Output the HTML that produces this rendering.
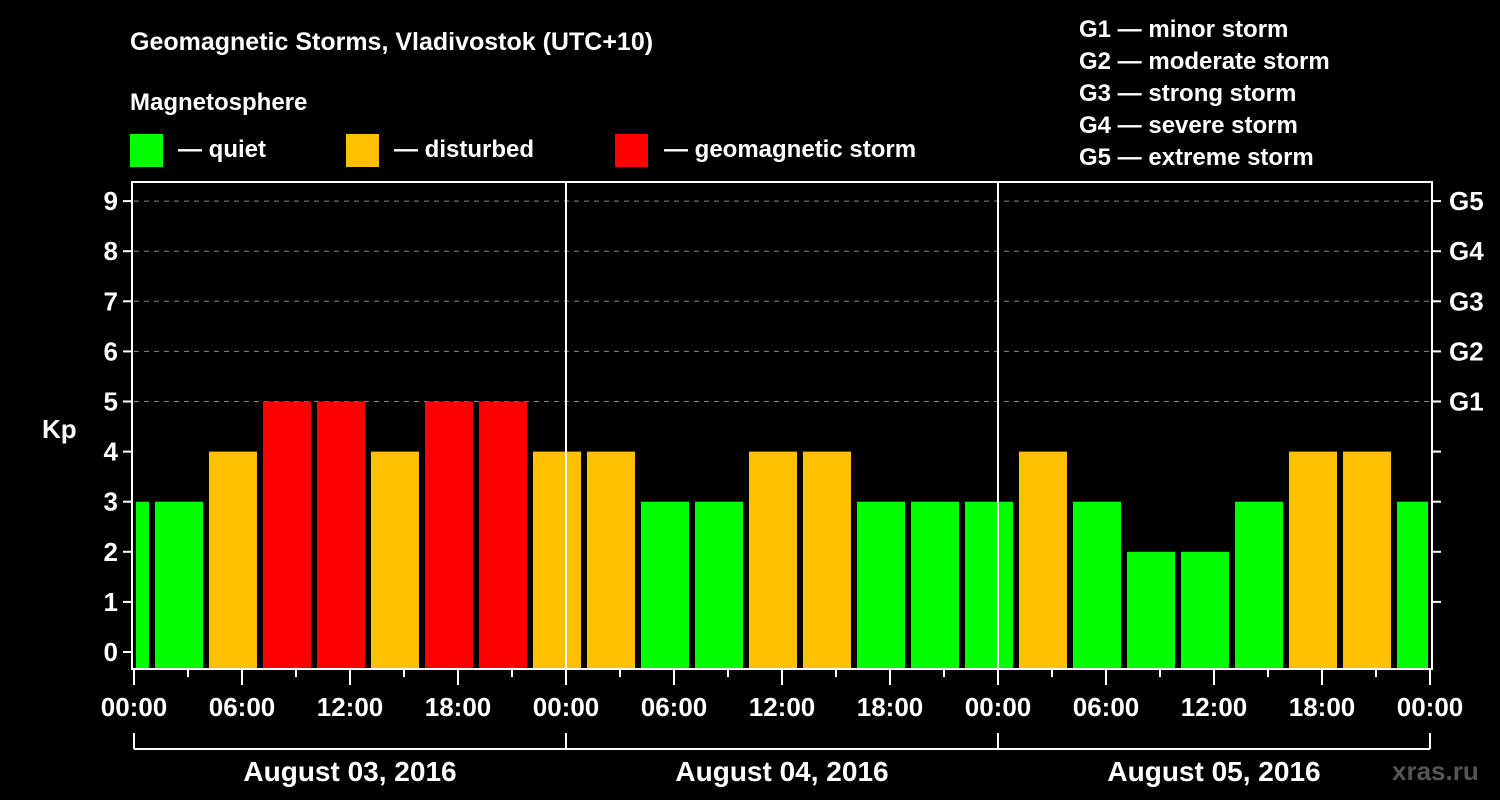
<!DOCTYPE html>
<html><head><meta charset="utf-8"><style>
body{margin:0;background:#000;width:1500px;height:800px;overflow:hidden}
svg{display:block;font-family:"Liberation Sans",sans-serif;font-weight:bold}
</style></head><body>
<svg id="c" width="1500" height="800">
<text x="130" y="50" fill="#fff" font-size="25">Geomagnetic Storms, Vladivostok (UTC+10)</text>
<text x="130" y="110" fill="#fff" font-size="24">Magnetosphere</text>
<g><rect x="130" y="134" width="33" height="33" fill="#00ff00"/><text x="178" y="157" fill="#fff" font-size="24">— quiet</text></g>
<g><rect x="346" y="134" width="33" height="33" fill="#ffc000"/><text x="394" y="157" fill="#fff" font-size="24">— disturbed</text></g>
<g><rect x="615" y="134" width="33" height="33" fill="#ff0000"/><text x="664" y="157" fill="#fff" font-size="24">— geomagnetic storm</text></g>
<g fill="#fff" font-size="24">
<text x="1079" y="37">G1 — minor storm</text><text x="1079" y="69">G2 — moderate storm</text><text x="1079" y="101">G3 — strong storm</text><text x="1079" y="133">G4 — severe storm</text><text x="1079" y="165">G5 — extreme storm</text>
</g>
<text x="42" y="438" fill="#fff" font-size="26">Kp</text>
<text x="1392" y="780" fill="#555" font-size="26">xras.ru</text>
<g id="g"></g>
</svg>
<script>
const kpValues=[3,3,4,5,5,4,5,5,4,4,3,3,4,4,3,3,3,4,3,2,2,3,4,4,3];
const startHour=-2;
const yTicks=[0,1,2,3,4,5,6,7,8,9];
const gLabels=["G1","G2","G3","G4","G5"];
const xTickLabels=["00:00","06:00","12:00","18:00","00:00","06:00","12:00","18:00","00:00","06:00","12:00","18:00","00:00"];
const dayLabels=["August 03, 2016","August 04, 2016","August 05, 2016"];
const X0=134,X1=1430,TOP=182,BOT=669,HOURS=72;
const x=h=>X0+(X1-X0)*h/HOURS;
const y=v=>652-50.1*v;
const g=document.getElementById('g');
const NS='http://www.w3.org/2000/svg';
function el(t,a,txt){const e=document.createElementNS(NS,t);for(const k in a)e.setAttribute(k,a[k]);if(txt!=null)e.textContent=txt;g.appendChild(e);return e;}
for(let v=5;v<=9;v++){const e=el('line',{x1:X0,x2:X1,y1:y(v),y2:y(v),stroke:'#888','stroke-dasharray':'5,5','stroke-width':1});

}
kpValues.forEach((v,i)=>{const s=startHour+3*i,e2=s+3;
let a=Math.max(x(s)+3,x(0)+2),b=Math.min(x(e2)-3,x(HOURS)-2);
const col=v>=5?'#ff0000':v>=4?'#ffc000':'#00ff00';
const r=el('rect',{x:a,y:y(v),width:b-a,height:BOT-1-y(v),fill:col});

});
[1,2].forEach(d=>{const e=el('line',{x1:x(24*d),x2:x(24*d),y1:TOP,y2:BOT,stroke:'#fff','stroke-width':2});

});
const fr=el('rect',{x:X0-2,y:TOP,width:X1-X0+4,height:BOT-TOP,fill:'none',stroke:'#fff','stroke-width':2});


yTicks.forEach(v=>{el('line',{x1:X0-11,x2:X0-2,y1:y(v),y2:y(v),stroke:'#fff','stroke-width':2});
const t=el('text',{x:X0-16,y:y(v)+9,fill:'#fff','font-size':26,'text-anchor':'end'},v);


if(v>0)el('line',{x1:X1+2,x2:X1+11,y1:y(v),y2:y(v),stroke:'#fff','stroke-width':2});});
gLabels.forEach((l,i)=>{const t=el('text',{x:1449,y:y(5+i)+9,fill:'#fff','font-size':26},l);

});
for(let h=0;h<=HOURS;h+=3){const maj=h%6===0;el('line',{x1:x(h),x2:x(h),y1:BOT,y2:BOT+(maj?16:8),stroke:'#fff','stroke-width':2});}
xTickLabels.forEach((l,i)=>{const t=el('text',{x:x(6*i),y:716,fill:'#fff','font-size':26,'text-anchor':'middle'},l);

});
el('line',{x1:X0,x2:X1,y1:749,y2:749,stroke:'#fff','stroke-width':2});
for(let d=0;d<=3;d++)el('line',{x1:x(24*d),x2:x(24*d),y1:733,y2:749,stroke:'#fff','stroke-width':2});
dayLabels.forEach((l,i)=>{const t=el('text',{x:x(24*i+12),y:781,fill:'#fff','font-size':28,'text-anchor':'middle'},l);

});
</script>
</body></html>
